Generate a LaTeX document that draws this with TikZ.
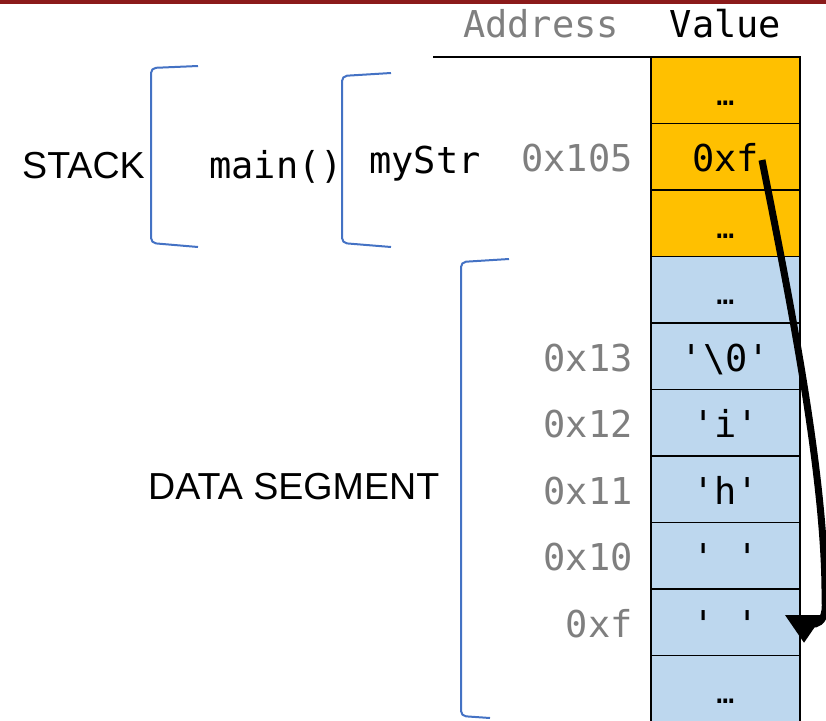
\documentclass[tikz,border=0pt]{standalone}
\usepackage{fontspec}
\setmainfont{Liberation Sans}
\setmonofont{DejaVu Sans Mono}
\usetikzlibrary{arrows.meta}
\definecolor{stackc}{HTML}{FFC000}
\definecolor{datac}{HTML}{BDD7EE}
\definecolor{brk}{HTML}{4472C4}
\definecolor{addrc}{HTML}{7F7F7F}
\definecolor{topred}{HTML}{8B1A1A}
\newcommand{\celldots}{{\fontsize{30}{30}\selectfont …}}
\begin{document}
\begin{tikzpicture}[x=1pt,y=-1pt,
  cell/.style={draw=black, line width=1.5pt, minimum width=149pt, minimum height=66.5pt,
    inner sep=0pt, text height=30pt, text depth=0pt, font=\fontsize{37}{40}\selectfont\ttfamily},
  stk/.style={cell, fill=stackc},
  dat/.style={cell, fill=datac},
  addrlab/.style={anchor=base east, inner sep=0pt, text=addrc, font=\fontsize{37}{40}\selectfont\ttfamily},
  codelab/.style={anchor=base west, inner sep=0pt, font=\fontsize{37}{40}\selectfont\ttfamily},
  sanslab/.style={anchor=base west, inner sep=0pt, font=\fontsize{37.6}{40}\selectfont},
  bracket/.style={draw=brk, line width=2pt, rounded corners=5pt},
  pointer/.style={draw=black, line width=7pt, -{Triangle[length=28pt,width=36pt]}}
]
\useasboundingbox (0,0) rectangle (826,720);
\fill[topred] (0,0) rectangle (826,3.5);

% header
\node[anchor=base, inner sep=0pt, text=addrc, font=\fontsize{37}{40}\selectfont\ttfamily] (haddr) at (541,37) {Address};
\node[anchor=base, inner sep=0pt, font=\fontsize{37}{40}\selectfont\ttfamily] (hval) at (725.5,37) {Value};
\coordinate (hl) at (433,57);
\coordinate (hr) at (651,57);
\draw[line width=1.5pt] (hl) -- (hr);

% cells
\node[stk] (c1) at (725.5,90.25) {\celldots};
\node[stk] (c2) at (725.5,156.75) {0xf};
\node[stk] (c3) at (725.5,223.25) {\celldots};
\node[dat] (c4) at (725.5,289.75) {\celldots};
\node[dat] (c5) at (725.5,356.25) {'\textbackslash 0'};
\node[dat] (c6) at (725.5,422.75) {'i'};
\node[dat] (c7) at (725.5,489.25) {'h'};
\node[dat] (c8) at (725.5,555.75) {'\ '};
\node[dat] (c9) at (725.5,622.25) {'\ '};
\node[dat] (c10) at (725.5,688.75) {\celldots};

% addresses
\node[addrlab] (a2) at (633,171.75) {0x105};
\node[addrlab] (a5) at (633,371.25) {0x13};
\node[addrlab] (a6) at (633,437.75) {0x12};
\node[addrlab] (a7) at (633,504.25) {0x11};
\node[addrlab] (a8) at (633,570.75) {0x10};
\node[addrlab] (a9) at (633,637.25) {0xf};

% labels
\node[sanslab] (stack) at (22,178) {STACK};
\node[codelab] (mainf) at (209,178) {main()};
\node[codelab] (mystr) at (369,173) {myStr};
\node[sanslab] (dataseg) at (148,499) {DATA SEGMENT};

% brackets
\draw[bracket] (198,66) -- (151,68) -- (151,243) -- (198,247);
\draw[bracket] (391,73) -- (342,76) -- (342,243) -- (391,247);
\draw[bracket] (509,259) -- (461,262) -- (461,716) -- (490,718);

% pointer
\coordinate (pfrom) at (762,160);
\coordinate (pto) at (804,643);
\draw[pointer] (pfrom) .. controls (790,300) and (826,480) .. (825,600)
  .. controls (828,632) and (804,626) .. (pto);
\end{tikzpicture}
\end{document}
